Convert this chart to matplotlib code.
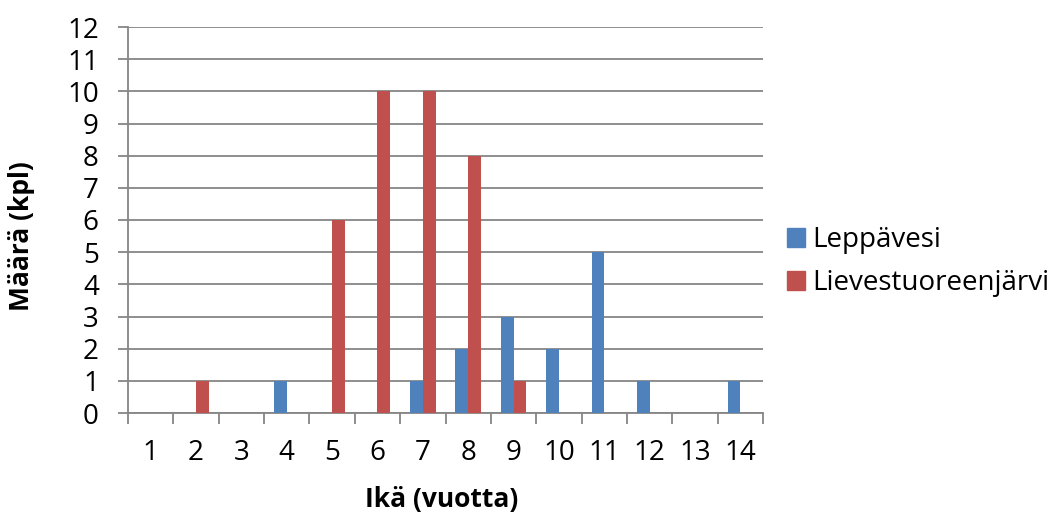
import matplotlib.pyplot as plt
import numpy as np
from matplotlib.patches import Patch

# age classes and counts per lake
ages = [str(i) for i in range(1, 15)]
leppavesi = [0, 0, 0, 1, 0, 0, 1, 2, 3, 2, 5, 1, 0, 1]
lievestuore = [0, 1, 0, 0, 6, 10, 10, 8, 1, 0, 0, 0, 0, 0]
y_ticks = list(range(0, 13))

plt.rcParams['font.family'] = ['Open Sans', 'DejaVu Sans']

blue = '#4F81BD'
red = '#C0504D'
grid = '#868686'

fig = plt.figure(figsize=(10.54, 5.15), dpi=100)
ax = fig.add_axes([128 / 1054, 1 - 413 / 515, 635 / 1054, 386 / 515])

x = np.arange(len(ages))
w = 0.28
ax.bar(x - w / 2, leppavesi, w, color=blue, zorder=3)
ax.bar(x + w / 2, lievestuore, w, color=red, zorder=3)

ax.set_xlim(-0.5, len(ages) - 0.5)
ax.set_ylim(0, 12)

# horizontal gridlines
ax.set_yticks(y_ticks)
ax.yaxis.grid(True, color=grid, linewidth=1.3, zorder=0)
ax.tick_params(axis='y', length=7, width=1.3, color=grid, labelsize=20, pad=14)

# category labels, with tick marks on category boundaries
ax.set_xticks(x)
ax.set_xticklabels(ages)
ax.set_xticks(np.arange(-0.5, len(ages)), minor=True)
ax.tick_params(axis='x', which='major', length=0, labelsize=20, pad=19)
ax.tick_params(axis='x', which='minor', length=8, width=1.3, color=grid)

for side in ['top', 'right']:
    ax.spines[side].set_visible(False)
for side in ['left', 'bottom']:
    ax.spines[side].set_color(grid)
    ax.spines[side].set_linewidth(1.3)

fig.text(442 / 1054, 1 - 500 / 515, 'Ikä (vuotta)', ha='center', va='center',
         fontsize=19, fontweight='bold')
fig.text(22 / 1054, 1 - 236 / 515, 'Määrä (kpl)', ha='center', va='center',
         fontsize=19, fontweight='bold', rotation=90)

handles = [Patch(color=blue, label='Leppävesi'),
           Patch(color=red, label='Lievestuoreenjärvi')]
fig.legend(handles=handles, loc='upper left', bbox_to_anchor=(787 / 1054, 1 - 226 / 515),
           frameon=False, fontsize=20, handlelength=0.65, handleheight=0.65,
           handletextpad=0.25, labelspacing=0.55, borderpad=0, borderaxespad=0)

fig.savefig('out.png', dpi=100)
